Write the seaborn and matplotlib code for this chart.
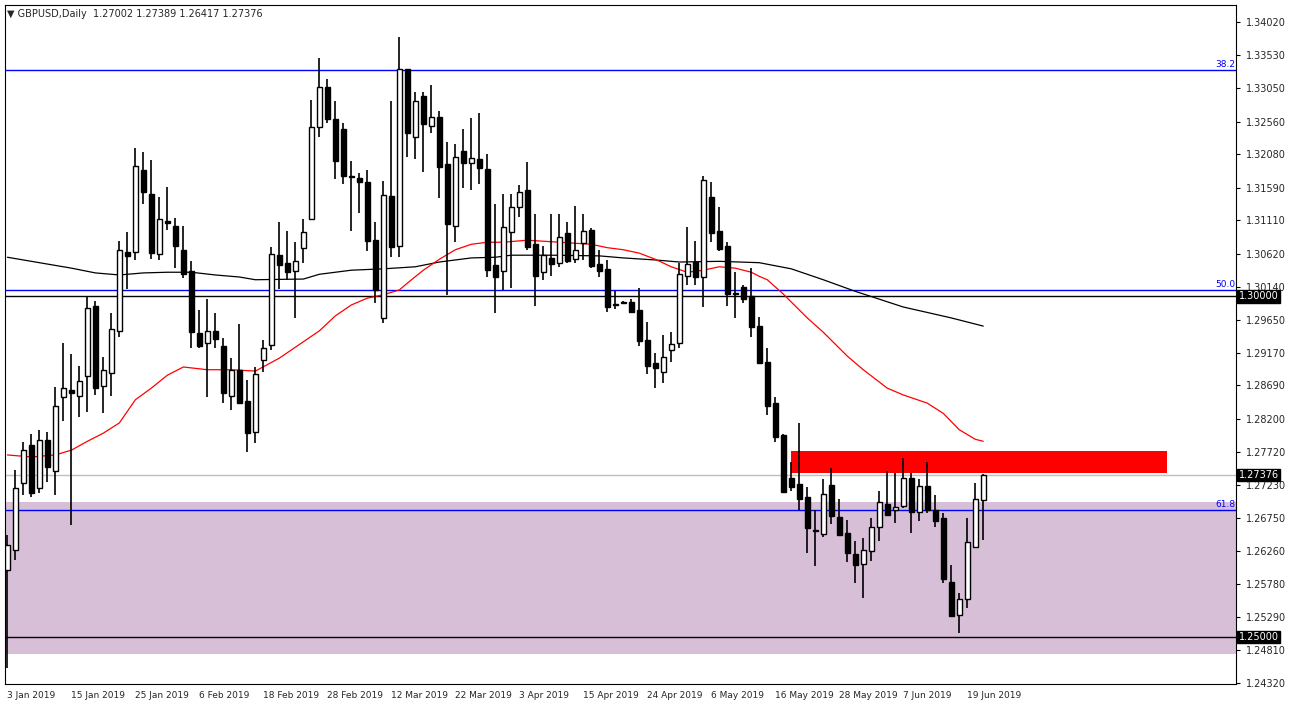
import matplotlib
matplotlib.use("Agg")
import matplotlib.pyplot as plt
import seaborn as sns
import pandas as pd
import numpy as np

# GBPUSD daily candles, 3 Jan 2019 .. 21 Jun 2019
opens = [1.2598, 1.2627, 1.2726, 1.2782, 1.2718, 1.2789, 1.2743, 1.2852, 1.2862, 1.2853,
         1.2883, 1.2985, 1.2868, 1.2887, 1.2949, 1.3065, 1.3065, 1.3185, 1.3150, 1.3062,
         1.3110, 1.3103, 1.3068, 1.3037, 1.2946, 1.2931, 1.2949, 1.2927, 1.2853, 1.2892,
         1.2846, 1.2801, 1.2906, 1.2928, 1.3060, 1.3049, 1.3037, 1.3071, 1.3113, 1.3248,
         1.3307, 1.3260, 1.3245, 1.3176, 1.3173, 1.3167, 1.3082, 1.2968, 1.3147, 1.3073,
         1.3333, 1.3233, 1.3294, 1.3250, 1.3263, 1.3194, 1.3103, 1.3213, 1.3195, 1.3201,
         1.3186, 1.3046, 1.3037, 1.3094, 1.3131, 1.3156, 1.3076, 1.3035, 1.3056, 1.3049,
         1.3093, 1.3054, 1.3078, 1.3097, 1.3047, 1.3040, 1.2988, 1.2991, 1.2991, 1.2980,
         1.2936, 1.2902, 1.2889, 1.2921, 1.2931, 1.3029, 1.3050, 1.3028, 1.3145, 1.3095,
         1.3073, 1.3005, 1.3013, 1.3000, 1.2956, 1.2903, 1.2843, 1.2796, 1.2733, 1.2724,
         1.2705, 1.2657, 1.2651, 1.2723, 1.2676, 1.2652, 1.2622, 1.2607, 1.2626, 1.2661,
         1.2695, 1.2686, 1.2692, 1.2733, 1.2683, 1.2721, 1.2686, 1.2674, 1.2581, 1.2532,
         1.2556, 1.2632, 1.27002]
highs = [1.2650, 1.2745, 1.2786, 1.2798, 1.2804, 1.2801, 1.2867, 1.2931, 1.2915, 1.2897,
         1.2999, 1.2993, 1.2911, 1.2975, 1.3081, 1.3094, 1.3217, 1.3211, 1.3200, 1.3145,
         1.3160, 1.3115, 1.3103, 1.3051, 1.2980, 1.2996, 1.2975, 1.2939, 1.2909, 1.2959,
         1.2877, 1.2896, 1.2936, 1.3072, 1.3109, 1.3095, 1.3079, 1.3113, 1.3288, 1.3349,
         1.3318, 1.3286, 1.3254, 1.3198, 1.3181, 1.3185, 1.3109, 1.3169, 1.3286, 1.3380,
         1.3333, 1.3299, 1.3299, 1.3310, 1.3272, 1.3226, 1.3223, 1.3245, 1.3261, 1.3269,
         1.3208, 1.3135, 1.3150, 1.3150, 1.3163, 1.3197, 1.3120, 1.3073, 1.3120, 1.3120,
         1.3109, 1.3132, 1.3120, 1.3100, 1.3068, 1.3053, 1.3007, 1.2993, 1.2996, 1.3012,
         1.2962, 1.2916, 1.2943, 1.2947, 1.3049, 1.3101, 1.3081, 1.3176, 1.3167, 1.3131,
         1.3079, 1.3035, 1.3016, 1.3041, 1.2969, 1.2924, 1.2852, 1.2798, 1.2757, 1.2814,
         1.2720, 1.2686, 1.2732, 1.2748, 1.2702, 1.2672, 1.2641, 1.2645, 1.2674, 1.2714,
         1.2744, 1.2740, 1.2762, 1.2740, 1.2732, 1.2757, 1.2708, 1.2682, 1.2605, 1.2564,
         1.2674, 1.2726, 1.27389]
lows = [1.2454, 1.2613, 1.2708, 1.2705, 1.2711, 1.2727, 1.2708, 1.2817, 1.2664, 1.2823,
        1.2830, 1.2855, 1.2828, 1.2853, 1.2940, 1.3010, 1.3053, 1.3135, 1.3054, 1.3053,
        1.3097, 1.3041, 1.3027, 1.2924, 1.2924, 1.2852, 1.2924, 1.2843, 1.2833, 1.2843,
        1.2771, 1.2784, 1.2889, 1.2921, 1.3010, 1.3024, 1.2968, 1.3049, 1.3112, 1.3233,
        1.3254, 1.3172, 1.3164, 1.3095, 1.3122, 1.3066, 1.2990, 1.2961, 1.3057, 1.3057,
        1.3204, 1.3201, 1.3182, 1.3239, 1.3144, 1.3002, 1.3079, 1.3159, 1.3156, 1.3164,
        1.3028, 1.2975, 1.3009, 1.3012, 1.3116, 1.3068, 1.2985, 1.3024, 1.3029, 1.3043,
        1.3049, 1.3049, 1.3053, 1.3041, 1.3028, 1.2977, 1.2981, 1.2988, 1.2975, 1.2927,
        1.2886, 1.2865, 1.2872, 1.2903, 1.2924, 1.3016, 1.3016, 1.2984, 1.3079, 1.3066,
        1.2985, 1.2968, 1.2990, 1.2940, 1.2900, 1.2826, 1.2786, 1.2711, 1.2714, 1.2686,
        1.2623, 1.2604, 1.2647, 1.2666, 1.2648, 1.2610, 1.2579, 1.2557, 1.2612, 1.2641,
        1.2679, 1.2667, 1.2689, 1.2652, 1.2670, 1.2682, 1.2661, 1.2579, 1.2529, 1.2506,
        1.2542, 1.2630, 1.26417]
closes = [1.2635, 1.2718, 1.2774, 1.2711, 1.2789, 1.2749, 1.2839, 1.2865, 1.2858, 1.2875,
          1.2983, 1.2865, 1.2892, 1.2952, 1.3068, 1.3059, 1.3191, 1.3153, 1.3063, 1.3113,
          1.3107, 1.3073, 1.3032, 1.2947, 1.2927, 1.2949, 1.2937, 1.2858, 1.2892, 1.2843,
          1.2799, 1.2886, 1.2924, 1.3062, 1.3046, 1.3035, 1.3051, 1.3094, 1.3248, 1.3307,
          1.3260, 1.3198, 1.3176, 1.3175, 1.3167, 1.3081, 1.3009, 1.3148, 1.3072, 1.3333,
          1.3239, 1.3286, 1.3252, 1.3263, 1.3189, 1.3106, 1.3204, 1.3195, 1.3203, 1.3188,
          1.3038, 1.3028, 1.3101, 1.3131, 1.3153, 1.3072, 1.3029, 1.3060, 1.3047, 1.3087,
          1.3051, 1.3068, 1.3095, 1.3044, 1.3037, 1.2984, 1.2987, 1.2990, 1.2977, 1.2934,
          1.2897, 1.2894, 1.2911, 1.2930, 1.3032, 1.3047, 1.3028, 1.3170, 1.3093, 1.3069,
          1.3003, 1.3003, 1.2996, 1.2955, 1.2902, 1.2839, 1.2793, 1.2713, 1.2720, 1.2702,
          1.2660, 1.2656, 1.2710, 1.2677, 1.2650, 1.2623, 1.2605, 1.2627, 1.2661, 1.2698,
          1.2679, 1.2691, 1.2733, 1.2683, 1.2721, 1.2686, 1.2670, 1.2585, 1.2531, 1.2556,
          1.2639, 1.2702, 1.27376]

# moving averages (bar index, value)
ma_red_idx = [0, 3, 6, 8, 10, 12, 14, 16, 18, 20, 22, 25, 28, 31, 34, 37, 39, 41, 43, 45,
              47, 49, 50, 52, 54, 56, 58, 60, 62, 65, 69, 73, 75, 77, 79, 81, 83, 85, 87, 89,
              91, 93, 94, 95, 97, 100, 102, 105, 107, 110, 112, 115, 117, 119, 121, 122]
ma_red = [1.2767, 1.2764, 1.2767, 1.2774, 1.2787, 1.2799, 1.2814, 1.2848, 1.2865, 1.2884,
          1.2896, 1.2892, 1.2892, 1.2890, 1.2909, 1.2933, 1.2949, 1.2971, 1.2987, 1.2997,
          1.3002, 1.3009, 1.3019, 1.3038, 1.3054, 1.3068, 1.3076, 1.3079, 1.3079, 1.3082,
          1.3079, 1.3076, 1.3071, 1.3068, 1.3063, 1.3054, 1.3043, 1.3035, 1.3038, 1.3043,
          1.3041, 1.3035, 1.3029, 1.3024, 1.3003, 1.2968, 1.2947, 1.2912, 1.2892, 1.2865,
          1.2855, 1.2843, 1.2828, 1.2804, 1.2790, 1.2787]
ma_black_idx = [0, 4, 8, 11, 14, 17, 20, 23, 26, 29, 31, 37, 39, 43, 47, 51, 54, 58, 61, 63,
                68, 74, 77, 81, 84, 89, 94, 98, 102, 106, 112, 118, 122]
ma_black = [1.3057, 1.3049, 1.3041, 1.3034, 1.3031, 1.3034, 1.3035, 1.3035, 1.3031, 1.3028,
            1.3024, 1.3025, 1.3032, 1.3038, 1.3040, 1.3043, 1.3050, 1.3056, 1.3057, 1.3060,
            1.3060, 1.3059, 1.3056, 1.3053, 1.3050, 1.3051, 1.3049, 1.3040, 1.3024, 1.3007,
            1.2984, 1.2968, 1.2956]

# levels
fib_levels = {"38.2": 1.3332, "50.0": 1.3009, "61.8": 1.2686}
round_levels = [1.3000, 1.2500]
last_price = 1.27376
zone_bottom, zone_top = 1.2475, 1.2698
res_bottom, res_top = 1.2740, 1.2773
res_start, res_end = 98, 145

price_ticks = [1.34020, 1.33530, 1.33050, 1.32560, 1.32080, 1.31590, 1.31110, 1.30620,
               1.30140, 1.29650, 1.29170, 1.28690, 1.28200, 1.27720, 1.27230, 1.26750,
               1.26260, 1.25780, 1.25290, 1.24810, 1.24320]
date_labels = ["3 Jan 2019", "15 Jan 2019", "25 Jan 2019", "6 Feb 2019", "18 Feb 2019",
               "28 Feb 2019", "12 Mar 2019", "22 Mar 2019", "3 Apr 2019", "15 Apr 2019",
               "24 Apr 2019", "6 May 2019", "16 May 2019", "28 May 2019", "7 Jun 2019",
               "19 Jun 2019"]
date_idx = [0, 8, 16, 24, 32, 40, 48, 56, 64, 72, 80, 88, 96, 104, 112, 120]

df = pd.DataFrame({"open": opens, "high": highs, "low": lows, "close": closes})
df["bar"] = np.arange(len(df))
up = df[df.close >= df.open]
dn = df[df.close < df.open]

sns.set_style("white")
plt.rcParams["font.family"] = ["DejaVu Sans"]

fig = plt.figure(figsize=(12.89, 7.08), dpi=100)
ax = fig.add_axes([5 / 1289, 24 / 708, 1231 / 1289, 679 / 708])

# zones
ax.axhspan(zone_bottom, zone_top, color="#D8BFD8", zorder=0, lw=0)
ax.fill_between([res_start, res_end], res_bottom, res_top, color="#FF0000", lw=0, zorder=1)

# lines
for name, lv in fib_levels.items():
    ax.axhline(lv, color="#0000FF", lw=1, zorder=1)
    ax.text(153.5, lv + 0.00015, name, color="#0000FF", fontsize=6.5, ha="right", va="bottom")
for lv in round_levels:
    ax.axhline(lv, color="black", lw=1, zorder=1)
ax.axhline(last_price, color="#C0C0C0", lw=1, zorder=1)

sns.lineplot(x=ma_black_idx, y=ma_black, color="black", lw=0.9, ax=ax, zorder=2)
sns.lineplot(x=ma_red_idx, y=ma_red, color="#FF0000", lw=0.9, ax=ax, zorder=2)

# candles
ax.vlines(df.bar, df.low, df.high, color="black", lw=1.2, zorder=3)
ax.bar(up.bar, up.close - up.open, bottom=up.open, width=0.68, color="white",
       edgecolor="black", lw=1.0, zorder=4)
ax.bar(dn.bar, dn.close - dn.open, bottom=dn.open, width=0.68, color="black",
       edgecolor="black", lw=1.0, zorder=4)

ax.set_xlim(-0.3, 153.6)
ax.set_ylim(1.2431, 1.3427)
ax.yaxis.tick_right()
ax.set_yticks(price_ticks)
ax.set_yticklabels([f"{t:.5f}" for t in price_ticks], fontsize=7)
ax.set_xticks(date_idx)
ax.set_xticklabels(date_labels, fontsize=6.5, ha="left")
ax.tick_params(axis="both", length=3, width=0.8, color="black", pad=2)
ax.tick_params(axis="y", pad=4)
for s in ax.spines.values():
    s.set_color("black")
    s.set_linewidth(0.8)

for lv in round_levels + [last_price]:
    ax.text(1.002, lv, f"{lv:.5f}", transform=ax.get_yaxis_transform(), fontsize=7,
            color="white", va="center", ha="left",
            bbox=dict(boxstyle="square,pad=0.15", fc="black", ec="black"))

ax.text(0.002, 0.994, "\u25BC GBPUSD,Daily  1.27002 1.27389 1.26417 1.27376",
        transform=ax.transAxes, fontsize=7, va="top", ha="left")

fig.savefig("out.png", dpi=100, facecolor="white")
